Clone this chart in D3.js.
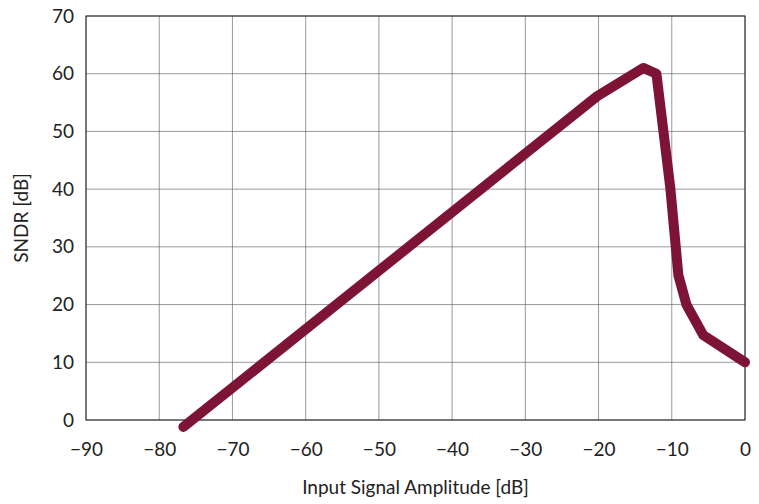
<!DOCTYPE html>
<html><head><meta charset="utf-8">
<script src="https://cdn.jsdelivr.net/npm/d3@7"></script>
<style>body{margin:0;background:#fff}text{font-family:Lato,"Open Sans",sans-serif;}</style>
</head><body><div id="chart"></div>
<script>
var amplitude = [-76.7, -20.2, -13.9, -12.1, -10.2, -9.1, -8, -5.7, 0]
var sndr = [-1.2, 56.1, 61, 60, 40.2, 25.1, 20, 14.7, 10]
var xTicks = [-90, -80, -70, -60, -50, -40, -30, -20, -10, 0]
var yTicks = [0, 10, 20, 30, 40, 50, 60, 70]

var margin = { top: 16, right: 14, bottom: 84, left: 86 },
    width = 759 - margin.left - margin.right,
    height = 504 - margin.top - margin.bottom;

var svg = d3.select("#chart").append("svg")
    .attr("width", 759).attr("height", 504)
    .append("g")
    .attr("transform", "translate(" + margin.left + "," + margin.top + ")");

var x = d3.scaleLinear().domain([-90, 0]).range([0, width]);
var y = d3.scaleLinear().domain([0, 70]).range([height, 0]);

// grid
svg.append("g").selectAll("line").data(xTicks).enter().append("line")
    .attr("x1", d => x(d)).attr("x2", d => x(d)).attr("y1", 0).attr("y2", height)
    .attr("stroke", "#555").attr("stroke-width", 0.6)
svg.append("g").selectAll("line").data(yTicks).enter().append("line")
    .attr("y1", d => y(d)).attr("y2", d => y(d)).attr("x1", 0).attr("x2", width)
    .attr("stroke", "#555").attr("stroke-width", 0.6)
svg.append("rect").attr("width", width).attr("height", height)
    .attr("fill", "none").attr("stroke", "#222").attr("stroke-width", 1)

svg.append("g").attr("transform", "translate(0," + height + ")")
    .call(d3.axisBottom(x).tickValues(xTicks).tickSize(0).tickPadding(23).tickFormat(d => d < 0 ? "\u2212" + (-d) : d))
svg.append("g")
    .call(d3.axisLeft(y).tickValues(yTicks).tickSize(0).tickPadding(12))
svg.selectAll(".domain").remove()
svg.selectAll(".tick text").attr("font-size", 19).attr("fill", "#222").style("font-family", "Lato, sans-serif")

svg.append("text").attr("x", width / 2).attr("y", height + 74)
    .attr("text-anchor", "middle").attr("font-size", 19).attr("fill", "#222")
    .text("Input Signal Amplitude [dB]")
svg.append("text").attr("transform", "translate(-58," + (height / 2) + ") rotate(-90)")
    .attr("text-anchor", "middle").attr("font-size", 19).attr("fill", "#222")
    .text("SNDR [dB]")

var line = d3.line().x((d, i) => x(amplitude[i])).y(d => y(d))
svg.append("path").datum(sndr).attr("d", line)
    .attr("fill", "none").attr("stroke", "#7d1435").attr("stroke-width", 10)
    .attr("stroke-linecap", "round").attr("stroke-linejoin", "round")
</script></body></html>
